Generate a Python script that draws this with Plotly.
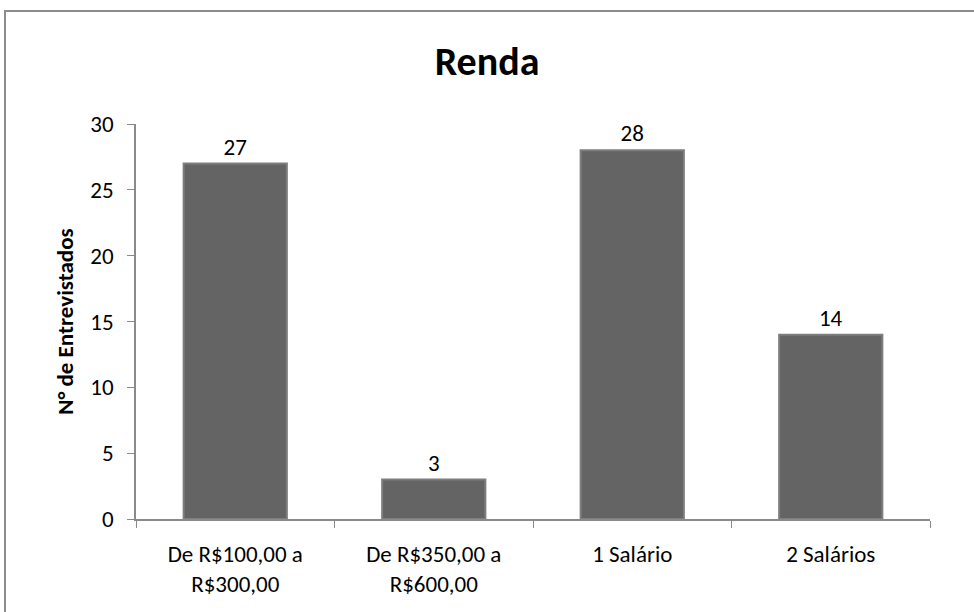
import plotly.graph_objects as go

# dados do gráfico
categorias = ["De R$100,00 a<br>R$300,00", "De R$350,00 a<br>R$600,00", "1 Salário", "2 Salários"]
entrevistados = [27, 3, 28, 14]
y_ticks = [0, 5, 10, 15, 20, 25, 30]

fonte = "Calibri, Carlito, Lato, sans-serif"

fig = go.Figure()
fig.add_trace(go.Bar(
    x=categorias,
    y=entrevistados,
    text=entrevistados,
    textposition="outside",
    textfont=dict(size=23, color="black", family=fonte),
    marker=dict(color="#646464", line=dict(color="#7e7e7e", width=2)),
    width=0.52,
    cliponaxis=False,
))

fig.update_layout(
    width=974, height=612,
    margin=dict(l=136, r=44, t=124, b=93),
    paper_bgcolor="white", plot_bgcolor="white",
    font=dict(family=fonte, size=23, color="black"),
    title=dict(text="<b>Renda</b>", x=0.5, xref="container", y=0.9, yref="container",
               xanchor="center", yanchor="middle", font=dict(size=40, family=fonte)),
    showlegend=False,
    bargap=0.48,
)

fig.update_xaxes(
    showline=True, linecolor="#8a8a8a", linewidth=1.5,
    ticks="outside", tickson="boundaries", ticklen=7, tickcolor="#8a8a8a",
    tickfont=dict(size=23), showgrid=False, ticklabelstandoff=14,
)
fig.update_yaxes(
    range=[0, 30], tickvals=y_ticks,
    showline=True, linecolor="#8a8a8a", linewidth=1.5,
    ticks="outside", ticklen=7, tickcolor="#8a8a8a",
    tickfont=dict(size=23), showgrid=False, zeroline=False, ticklabelstandoff=9,
    title=dict(text="<b>N° de Entrevistados</b>", font=dict(size=23), standoff=10),
)

# borda externa da área do gráfico
fig.add_shape(type="rect", xref="paper", yref="paper",
              x0=-0.165, x1=1.2, y0=-0.5, y1=1.286,
              line=dict(color="#8c8c8c", width=2), layer="below")

fig.write_html("out.html", config={"displayModeBar": False},
               post_script="document.body.style.margin='0';")
